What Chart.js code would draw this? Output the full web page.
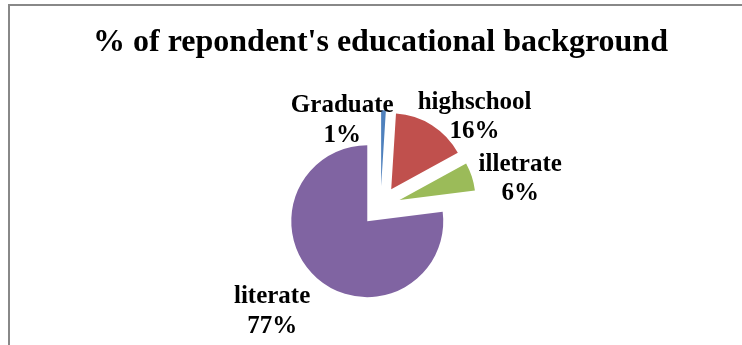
<!DOCTYPE html>
<html>
<head>
<meta charset="utf-8">
<script src="https://cdn.jsdelivr.net/npm/chart.js@4"></script>
<style>
  html, body { margin: 0; padding: 0; background: #fff; overflow: hidden; }
  #frame { position: relative; width: 742px; height: 345px; overflow: hidden; }
  #border { position: absolute; left: 8px; top: 4px; width: 800px; height: 400px; border: 2px solid #888; box-sizing: border-box; }
  canvas { position: absolute; left: 0; top: 0; }
</style>
</head>
<body>
<div id="frame">
  <div id="border"></div>
  <canvas id="eduChart" width="742" height="350"></canvas>
</div>
<script>
const categories = ['Graduate', 'highschool', 'illetrate', 'literate'];
const percentages = [1, 16, 6, 77];

const sliceColors = ['#4F81BD', '#C0504D', '#9BBB59', '#8064A2'];
const explodePx = [20, 20, 20, 20];
// label placement tweaks, like Excel's "best fit"
const labelNudge = [[-43, 44], [10, 20], [5, 13], [-17, 8]];

// pull every slice out from the centre along its middle angle
const explode = {
    id: 'explode',
    afterDatasetUpdate(chart, args) {
        args.meta.data.forEach((arc, i) => {
            const push = explodePx[i] || 0;
            const mid = (arc.startAngle + arc.endAngle) / 2;
            arc.x += Math.cos(mid) * push;
            arc.y += Math.sin(mid) * push;
        });
    }
};

const sliceLabels = {
    id: 'sliceLabels',
    afterDatasetsDraw(chart, args, opts) {
        const ctx = chart.ctx;
        const meta = chart.getDatasetMeta(0);
        ctx.save();
        ctx.font = 'bold ' + opts.size + 'px "Liberation Serif", serif';
        ctx.fillStyle = '#000';
        ctx.textAlign = 'center';
        ctx.textBaseline = 'middle';
        meta.data.forEach((arc, i) => {
            const lines = [categories[i], percentages[i] + '%'];
            const w = Math.max(...lines.map(l => ctx.measureText(l).width));
            const h = lines.length * opts.lineHeight;
            const mid = (arc.startAngle + arc.endAngle) / 2;
            const dx = Math.cos(mid), dy = Math.sin(mid);
            const r = arc.outerRadius + opts.gap;
            const n = labelNudge[i] || [0, 0];
            const cx = arc.x + dx * r + dx * w / 2 + n[0];
            const cy = arc.y + dy * r + dy * h / 2 + n[1];
            lines.forEach((line, j) => {
                ctx.fillText(line, cx, cy + (j - (lines.length - 1) / 2) * opts.lineHeight);
            });
        });
        ctx.restore();
    }
};

const ctx = document.getElementById('eduChart').getContext('2d');
new Chart(ctx, {
    type: 'pie',
    data: {
        labels: categories,
        datasets: [{
            data: percentages,
            backgroundColor: sliceColors,
            borderWidth: 0
        }]
    },
    options: {
        responsive: false,
        animation: false,
        events: [],
        radius: 76,
        layout: { padding: { top: 24, left: 19, right: 0, bottom: 0 } },
        plugins: {
            legend: { display: false },
            tooltip: { enabled: false },
            title: {
                display: true,
                text: "% of repondent's educational background",
                color: '#000',
                font: { family: '"Liberation Serif", serif', size: 32, weight: 'bold', lineHeight: 1.2 },
                padding: { top: 0, bottom: 0 }
            },
            sliceLabels: { size: 25, lineHeight: 29.5, gap: 4 }
        }
    },
    plugins: [explode, sliceLabels]
});
</script>
</body>
</html>
